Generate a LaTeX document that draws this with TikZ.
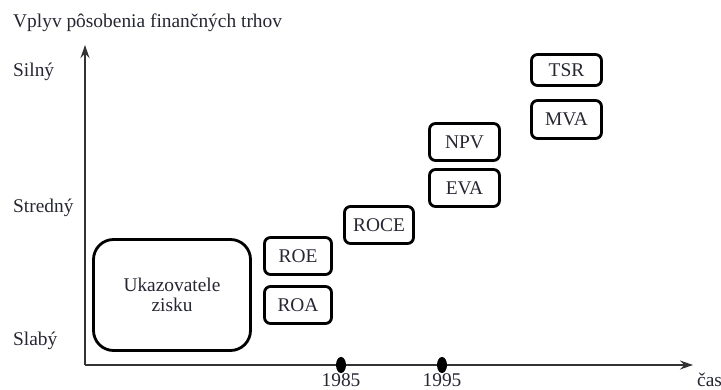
\documentclass[tikz,border=0pt]{standalone}
\usepackage{fontspec}
\setmainfont{Liberation Serif}
\usetikzlibrary{arrows.meta,shapes.geometric}
\definecolor{ink}{RGB}{38,38,52}
\begin{document}
\begin{tikzpicture}[x=1pt,y=-1pt,
  every node/.style={text=ink,font=\fontsize{19.4}{22}\selectfont},
  metric/.style={draw=black,line width=2.8pt,rectangle,rounded corners=6pt,inner sep=0pt},
  axis/.style={draw=black!80,line width=1.3pt,-{Stealth[length=13pt,width=9pt]}},
  yeardot/.style={ellipse,fill=black,inner sep=0pt,minimum width=10pt,minimum height=16pt},
  lbl/.style={anchor=base west,inner sep=0pt}]
\useasboundingbox (0,0) rectangle (721,390);

% axis labels
\node[lbl] (title) at (13,28) {Vplyv pôsobenia finančných trhov};
\node[lbl] (strong) at (13,77) {Silný};
\node[lbl] (medium) at (13,213) {Stredný};
\node[lbl] (weak) at (13,345) {Slabý};

% axes
\coordinate (origin) at (85,365);
\coordinate (ytip) at (85,45);
\coordinate (xtip) at (693,365);
\draw[axis] (origin) -- (ytip);
\draw[axis] (origin) -- (xtip);

% time marks
\node[yeardot] (y85) at (341,365) {};
\node[yeardot] (y95) at (442,365) {};
\node[anchor=base,inner sep=0pt] (t85) at (341,386) {1985};
\node[anchor=base,inner sep=0pt] (t95) at (442,386) {1995};
\node[lbl] (time) at (697,386) {čas};

% indicator boxes
\node[metric,rounded corners=20pt,minimum width=157pt,minimum height=111pt,align=center] (zisk) at (172,295) {Ukazovatele\\[-2pt]zisku};
\node[metric,minimum width=67pt,minimum height=37pt] (roe) at (298,256) {ROE};
\node[metric,minimum width=67pt,minimum height=37pt] (roa) at (298,305) {ROA};
\node[metric,minimum width=69pt,minimum height=37pt] (roce) at (379,225) {ROCE};
\node[metric,minimum width=70pt,minimum height=37pt] (npv) at (464.5,142) {NPV};
\node[metric,minimum width=70pt,minimum height=37pt] (eva) at (464.5,188) {EVA};
\node[metric,minimum width=70pt,minimum height=31pt] (tsr) at (566.5,70) {TSR};
\node[metric,minimum width=70pt,minimum height=38pt] (mva) at (566.5,119.5) {MVA};
\end{tikzpicture}
\end{document}
